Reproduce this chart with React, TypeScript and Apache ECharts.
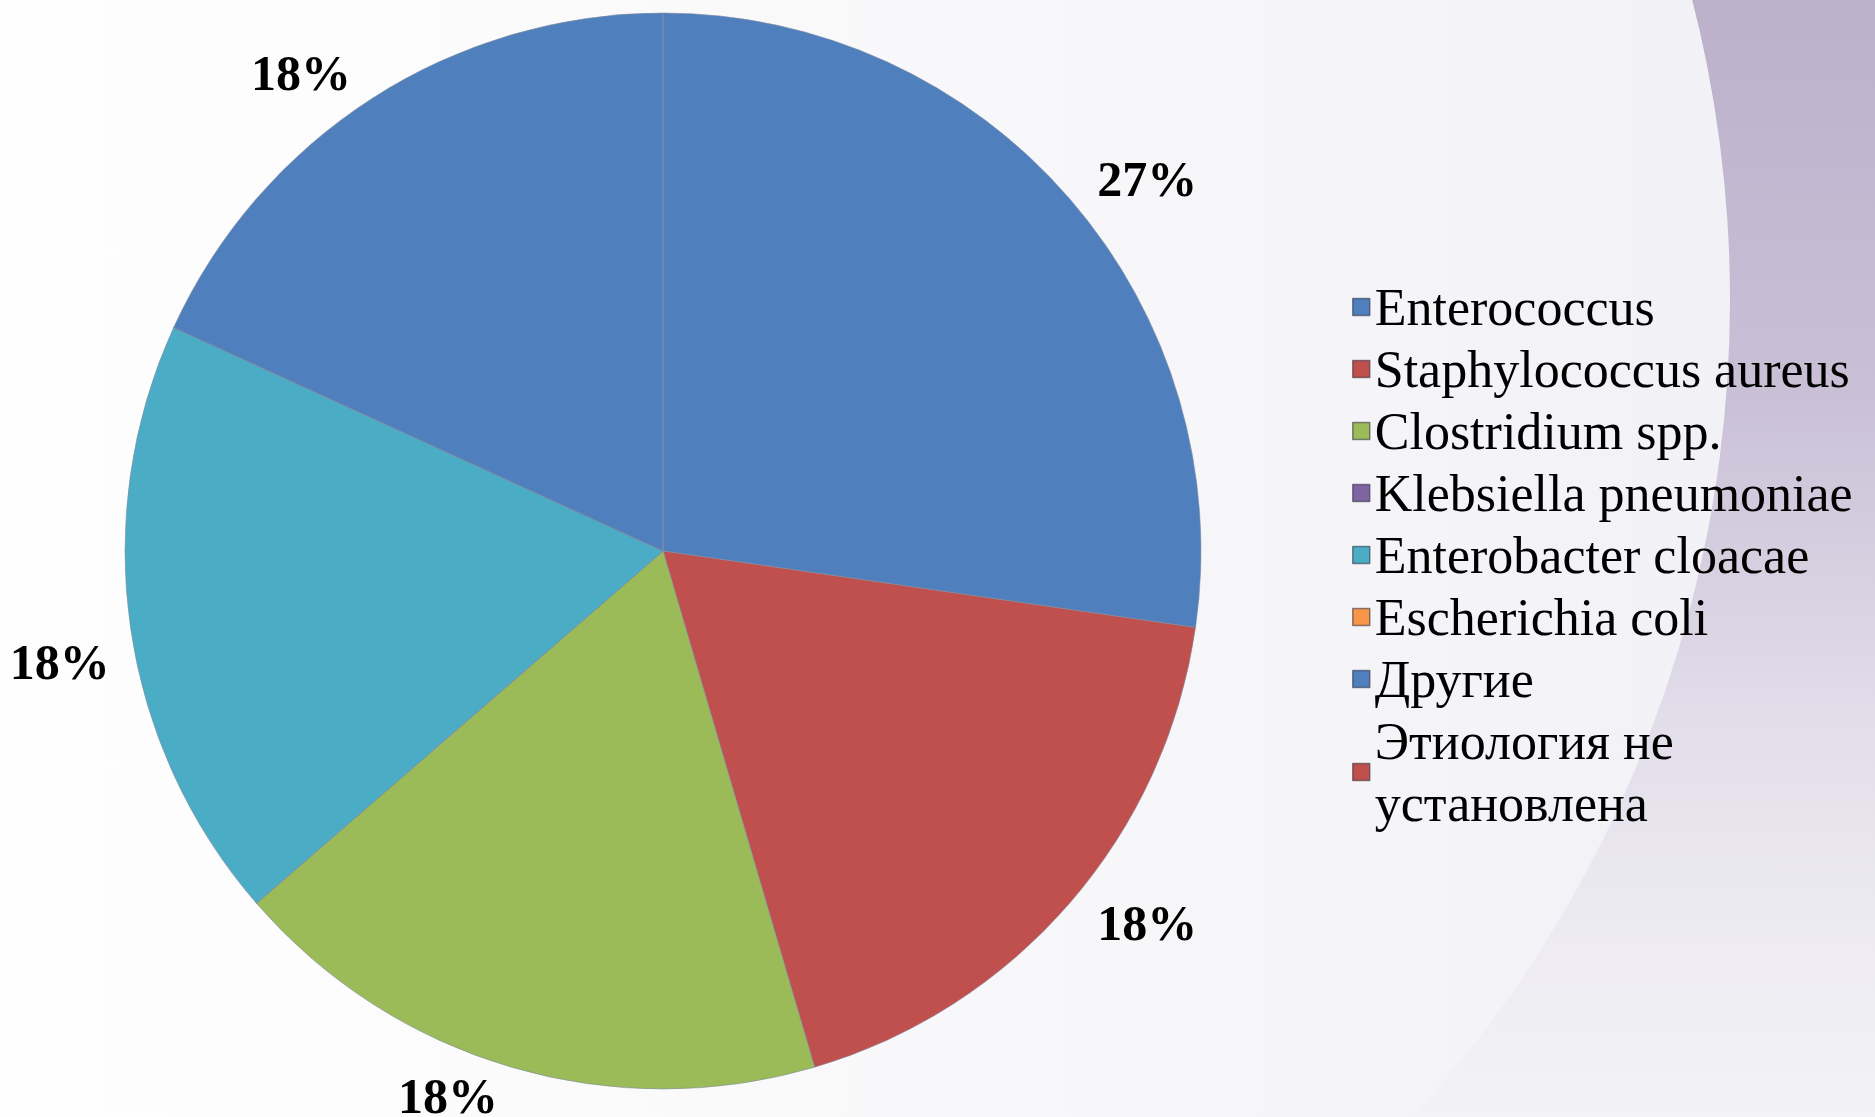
import React, { useEffect, useRef } from 'react';
import * as echarts from 'echarts';

const categories = [
  'Enterococcus',
  'Staphylococcus aureus',
  'Clostridium spp.',
  'Klebsiella pneumoniae',
  'Enterobacter cloacae',
  'Escherichia coli',
  'Другие',
  'Этиология не установлена',
];
const values = [3, 2, 2, 0, 2, 0, 2, 0];
const colors = ['#4F80BD', '#C0504D', '#9BBB59', '#8064A2', '#4BACC6', '#F79646', '#4F80BD', '#C0504D'];

export default function App() {
  const ref = useRef<HTMLDivElement>(null);
  useEffect(() => {
    document.body.style.margin = '0';
    const chart = echarts.init(ref.current!, null, { renderer: 'svg' });
    const total = values.reduce((a, b) => a + b, 0);
    const font = 'Liberation Serif';
    chart.setOption({
      animation: false,
      textStyle: { fontFamily: font },
      graphic: [
        {
          type: 'rect',
          z: -10,
          silent: true,
          shape: { x: 0, y: 0, width: 1875, height: 1117 },
          style: {
            fill: new echarts.graphic.LinearGradient(0, 0, 0, 1, [
              { offset: 0, color: '#BCB0CB' },
              { offset: 0.35, color: '#C9C0D6' },
              { offset: 0.65, color: '#E2DEEA' },
              { offset: 0.85, color: '#EEECF2' },
              { offset: 1, color: '#F3F2F6' },
            ]),
          },
        },
        {
          type: 'circle',
          z: -9,
          silent: true,
          shape: { cx: 520, cy: 300, r: 1210 },
          style: {
            fill: new echarts.graphic.LinearGradient(0, 0, 1, 0, [
              { offset: 0, color: '#FFFFFF' },
              { offset: 0.4, color: '#FDFDFD' },
              { offset: 0.8, color: '#F6F6F9' },
              { offset: 1, color: '#F2F1F6' },
            ]),
          },
        },
      ],
      legend: {
        orient: 'vertical',
        left: 1352,
        top: 276,
        padding: 0,
        itemGap: 0,
        itemWidth: 17,
        itemHeight: 17,
        icon: 'rect',
        selectedMode: false,
        formatter: (name: string) => name.replace(' не ', ' не\n'),
        itemStyle: { borderColor: 'rgba(40,40,60,0.55)', borderWidth: 1.5 },
        textStyle: {
          fontFamily: font,
          fontSize: 52,
          color: '#000',
          lineHeight: 62,
        },
      },
      series: [
        {
          type: 'pie',
          center: [663, 551],
          radius: 538,
          startAngle: 90,
          clockwise: true,
          avoidLabelOverlap: false,
          itemStyle: { borderColor: 'rgba(130,140,160,0.6)', borderWidth: 1 },
          label: {
            show: true,
            position: 'outside',
            fontFamily: font,
            fontSize: 50,
            fontWeight: 'bold',
            color: '#000',
            formatter: (p: any) => Math.round((p.value / total) * 100) + '%',
          },
          labelLine: { show: false, length: 30, length2: 0 },
          emphasis: { disabled: true },
          data: categories.map((name, i) => ({
            name,
            value: values[i],
            itemStyle: { color: colors[i] },
            label: i === 4 ? { show: values[i] > 0, offset: [14, 30] } : { show: values[i] > 0 },
          })),
        },
      ],
    });
    return () => chart.dispose();
  }, []);
  return <div ref={ref} style={{ position: 'fixed', left: 0, top: 0, width: 1875, height: 1117 }} />;
}
